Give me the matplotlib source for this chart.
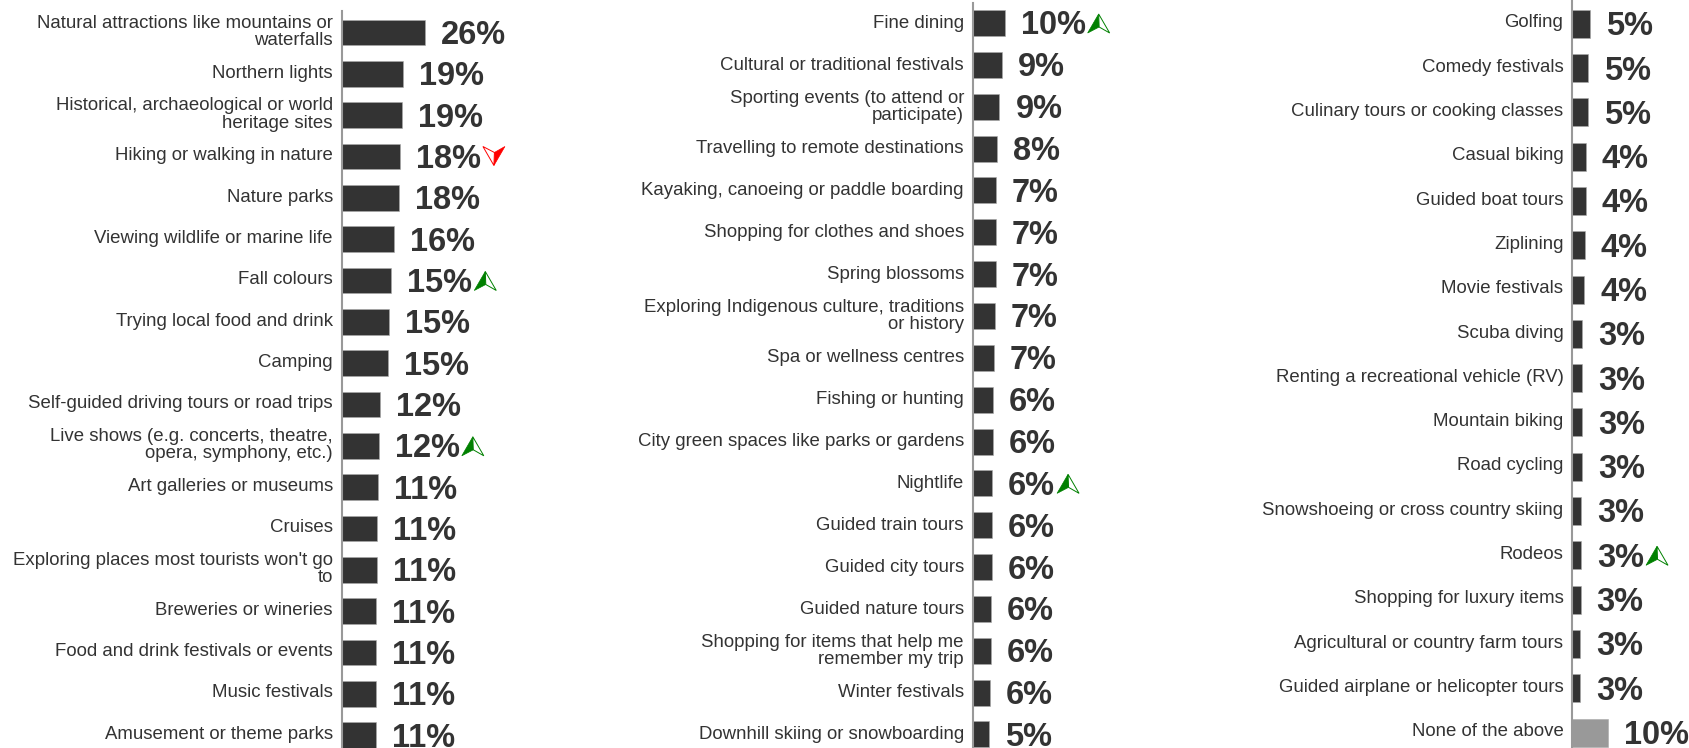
import matplotlib
matplotlib.use("Agg")
import matplotlib.pyplot as plt
from matplotlib.patches import Polygon
from matplotlib.transforms import Affine2D

plt.rcParams['font.family'] = ['Liberation Sans', 'DejaVu Sans']

labels_1 = ["Natural attractions like mountains or\nwaterfalls", "Northern lights",
            "Historical, archaeological or world\nheritage sites", "Hiking or walking in nature",
            "Nature parks", "Viewing wildlife or marine life", "Fall colours",
            "Trying local food and drink", "Camping", "Self-guided driving tours or road trips",
            "Live shows (e.g. concerts, theatre,\nopera, symphony, etc.)", "Art galleries or museums",
            "Cruises", "Exploring places most tourists won't go\nto", "Breweries or wineries",
            "Food and drink festivals or events", "Music festivals", "Amusement or theme parks"]
values_1 = [25.9, 19.2, 18.9, 18.1, 17.7, 16.1, 15.4, 14.8, 14.5, 11.8, 11.5, 11.1, 10.9, 10.8, 10.7, 10.7, 10.6, 10.5]
text_1 = ["26%", "19%", "19%", "18%", "18%", "16%", "15%", "15%", "15%", "12%", "12%", "11%", "11%", "11%", "11%", "11%", "11%", "11%"]
arrows_1 = {3: "down", 6: "up", 10: "up"}

labels_2 = ["Fine dining", "Cultural or traditional festivals", "Sporting events (to attend or\nparticipate)",
            "Travelling to remote destinations", "Kayaking, canoeing or paddle boarding",
            "Shopping for clothes and shoes", "Spring blossoms",
            "Exploring Indigenous culture, traditions\nor history", "Spa or wellness centres",
            "Fishing or hunting", "City green spaces like parks or gardens", "Nightlife",
            "Guided train tours", "Guided city tours", "Guided nature tours",
            "Shopping for items that help me\nremember my trip", "Winter festivals", "Downhill skiing or snowboarding"]
values_2 = [9.8, 8.9, 8.2, 7.4, 7.1, 7.1, 7.1, 6.7, 6.5, 6.2, 6.2, 5.9, 5.8, 5.8, 5.6, 5.6, 5.3, 5.1]
text_2 = ["10%", "9%", "9%", "8%", "7%", "7%", "7%", "7%", "7%", "6%", "6%", "6%", "6%", "6%", "6%", "6%", "6%", "5%"]
arrows_2 = {0: "up", 11: "up"}

labels_3 = ["Golfing", "Comedy festivals", "Culinary tours or cooking classes", "Casual biking",
            "Guided boat tours", "Ziplining", "Movie festivals", "Scuba diving",
            "Renting a recreational vehicle (RV)", "Mountain biking", "Road cycling",
            "Snowshoeing or cross country skiing", "Rodeos", "Shopping for luxury items",
            "Agricultural or country farm tours", "Guided airplane or helicopter tours", "None of the above"]
values_3 = [4.8, 4.5, 4.4, 3.8, 3.7, 3.5, 3.3, 2.8, 2.7, 2.7, 2.6, 2.5, 2.4, 2.3, 2.2, 2.1, 10.0]
text_3 = ["5%", "5%", "5%", "4%", "4%", "4%", "4%", "3%", "3%", "3%", "3%", "3%", "3%", "3%", "3%", "3%", "10%"]
arrows_3 = {12: "up"}

DARK = "#333333"
W, H = 1690, 748
fig = plt.figure(figsize=(W / 100, H / 100), dpi=100)
renderer = fig.canvas.get_renderer()

# arrow shape in pixels, around its own centre
LEFT = [(-11, 10), (0, -9), (0.5, 4)]
RIGHT = [(0, -9), (0.5, 4), (11, 10)]


def draw_arrow(ax, x, y, direction):
    sign = -1 if direction == "up" else 1
    color = "#008000" if direction == "up" else "#ff0000"
    filled, hollow = (LEFT, RIGHT) if direction == "up" else (RIGHT, LEFT)
    tr = Affine2D().scale(1, sign).translate(x, y)
    ax.add_patch(Polygon(filled, closed=True, fc=color, ec=color, lw=0.5, transform=tr, clip_on=False))
    ax.add_patch(Polygon(hollow, closed=True, fc="white", ec=color, lw=0.7, transform=tr, clip_on=False))


def panel(left, width, scale, top, first, pitch, bar_h, label_dy, labels, values, text, arrows, last_color=None):
    bottom = 748
    ax = fig.add_axes([left / W, 0, width / W, (bottom - top) / H])
    ax.set_xlim(0, width / scale)
    ypos = list(range(len(labels)))
    ax.set_ylim((bottom - first) / pitch, (top - first) / pitch)
    colors = [DARK] * len(values)
    if last_color:
        colors[-1] = last_color
    ax.barh(ypos, values, height=bar_h / pitch, color=colors, edgecolor="#aaaaaa", linewidth=0.4, zorder=2)
    for s in ["top", "right", "bottom"]:
        ax.spines[s].set_visible(False)
    ax.spines["left"].set_color("#999999")
    ax.spines["left"].set_linewidth(1.5)
    ax.spines["left"].set_zorder(3)
    ax.set_xticks([])
    ax.set_yticks([])
    ax.patch.set_alpha(0)
    for i, (lab, v, t) in enumerate(zip(labels, values, text)):
        ax.annotate(lab, (0, ypos[i]), xytext=(-9, label_dy), textcoords="offset pixels", ha="right", va="center",
                    fontsize=13.45, color=DARK, linespacing=1.03, annotation_clip=False)
        lbl = ax.annotate(t, (v, ypos[i]), xytext=(16, -3), textcoords="offset pixels", ha="left", va="center",
                          fontsize=23.5, fontweight="bold", color=DARK, annotation_clip=False)
        if i in arrows:
            box = lbl.get_window_extent(renderer)
            cy = ax.transData.transform((0, ypos[i]))[1]
            draw_arrow(ax, box.x1 + 13, cy, arrows[i])


panel(342, 240, 3.2, 11, 32.5, 41.33, 25.5, 0.8, labels_1, values_1, text_1, arrows_1)
panel(973, 200, 3.23, 3, 23, 41.85, 26, -0.2, labels_2, values_2, text_2, arrows_2)
panel(1572.5, 117, 3.55, 1, 23.7, 44.3, 28, 0.8, labels_3, values_3, text_3, arrows_3, last_color="#999999")

fig.savefig("out.png", dpi=100, facecolor="white")
